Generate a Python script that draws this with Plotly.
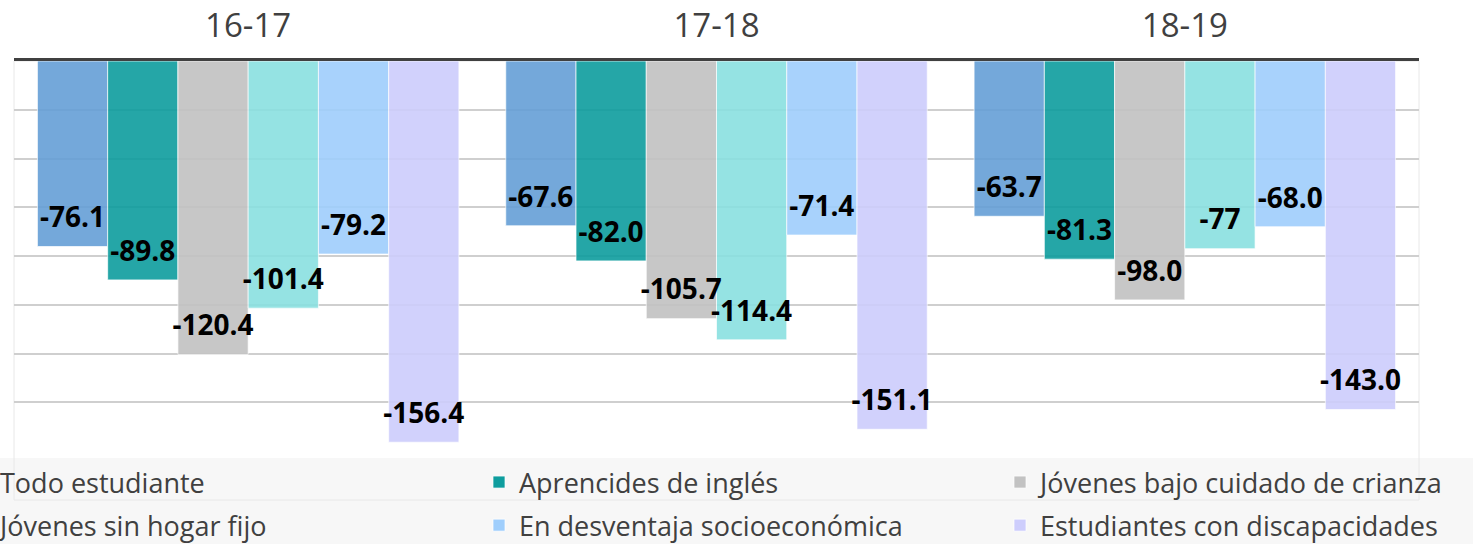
import plotly.graph_objects as go

years = ["16-17", "17-18", "18-19"]
series_names = [
    "Todo estudiante",
    "Aprencides de inglés",
    "Jóvenes bajo cuidado de crianza",
    "Jóvenes sin hogar fijo",
    "En desventaja socioeconómica",
    "Estudiantes con discapacidades",
]
todo_estudiante = [-76.1, -67.6, -63.7]
aprendices_ingles = [-89.8, -82.0, -81.3]
bajo_cuidado = [-120.4, -105.7, -98.0]
sin_hogar = [-101.4, -114.4, -77]
desventaja = [-79.2, -71.4, -68.0]
discapacidades = [-156.4, -151.1, -143.0]
all_values = [todo_estudiante, aprendices_ingles, bajo_cuidado, sin_hogar, desventaja, discapacidades]

colors = ["#659FD6", "#0E9D9E", "#C2C2C2", "#8AE0E0", "#9FCEFC", "#CDCDFC"]
legend_ids = ["legend", "legend2", "legend3", "legend", "legend2", "legend3"]

W, H = 1473, 544
ML, MR, MT, MB = 14, 54, 61, 93
PW, PH = W - ML - MR, H - MT - MB

fig = go.Figure()
for i, (name, vals, col) in enumerate(zip(series_names, all_values, colors)):
    fig.add_trace(go.Bar(
        x=years, y=vals, name=name, legend=legend_ids[i], legendgroup=f"g{i}",
        offsetgroup=f"o{i}",
        marker=dict(color=col, opacity=0.9, line=dict(color="rgba(255,255,255,0.7)", width=1)),
        hoverinfo="skip",
    ))
for i, vals in enumerate(all_values):
    fig.add_trace(go.Scatter(
        x=years, y=vals, mode="markers+text", showlegend=False,
        offsetgroup=f"o{i}",
        marker=dict(size=18, opacity=0),
        text=[str(v) for v in vals], textposition="top center",
        textfont=dict(family="Open Sans", size=28, color="#000000", weight="bold"),
        hoverinfo="skip", cliponaxis=False,
    ))

leg_common = dict(
    orientation="v", xanchor="left", yanchor="top", y=-7 / PH,
    bgcolor="rgba(0,0,0,0)", font=dict(family="Open Sans", size=27, color="#404040"),
    tracegroupgap=5, traceorder="grouped",
)

fig.update_layout(
    width=W, height=H,
    margin=dict(l=ML, r=MR, t=MT, b=MB, autoexpand=False),
    paper_bgcolor="white", plot_bgcolor="white",
    barmode="group", bargap=0.1, bargroupgap=0,
    scattermode="group", scattergap=0.1,
    showlegend=True,
    legend=dict(x=-54 / PW, **leg_common),
    legend2=dict(x=465 / PW, **leg_common),
    legend3=dict(x=986 / PW, **leg_common),
    xaxis=dict(
        side="top", showline=True, linecolor="#404040", linewidth=3,
        ticks="", ticklabelstandoff=8,
        tickfont=dict(family="Open Sans", size=33, color="#404040"),
        showgrid=False, fixedrange=True,
    ),
    yaxis=dict(
        range=[-160, 0], dtick=20, showticklabels=False, ticks="",
        showgrid=True, gridcolor="#CFCFCF", gridwidth=1.5,
        zeroline=False, showline=False, fixedrange=True,
    ),
    shapes=[
        dict(type="rect", xref="paper", yref="paper",
             x0=-ML / PW, x1=1 + MR / PW, y0=-7 / PH, y1=-(MB + 2) / PH,
             fillcolor="#F7F7F7", line=dict(width=0), layer="below"),
        dict(type="rect", xref="paper", yref="paper",
             x0=0, x1=1, y0=-49 / PH, y1=1,
             fillcolor="rgba(0,0,0,0)", line=dict(color="#E8E8E8", width=1), layer="below"),
    ],
)

fig.write_html("out.html", config={"displayModeBar": False},
               post_script="document.body.style.margin='0';")
